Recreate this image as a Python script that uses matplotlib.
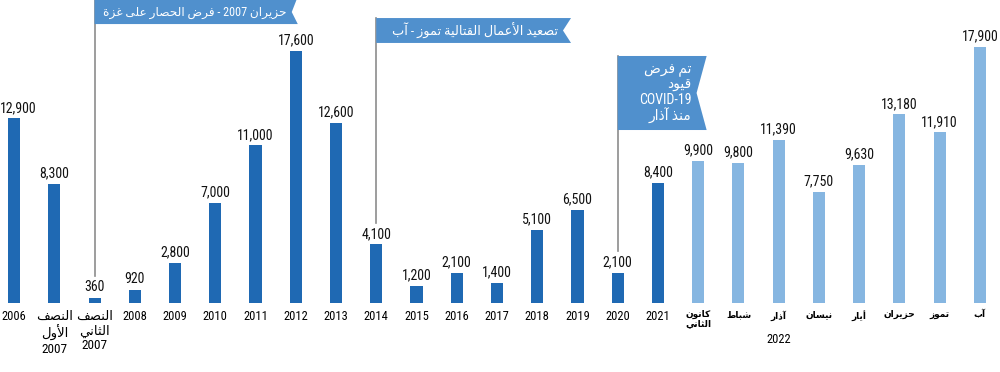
import matplotlib
matplotlib.use("Agg")
import matplotlib.pyplot as plt
from matplotlib.patches import Polygon

# --- minimal Arabic shaping (presentation forms) + right-to-left word order ---
DUAL = {'ئ': 0xFE89, 'ب': 0xFE8F, 'ت': 0xFE95, 'ث': 0xFE99, 'ج': 0xFE9D, 'ح': 0xFEA1,
        'خ': 0xFEA5, 'س': 0xFEB1, 'ش': 0xFEB5, 'ص': 0xFEB9, 'ض': 0xFEBD, 'ط': 0xFEC1,
        'ظ': 0xFEC5, 'ع': 0xFEC9, 'غ': 0xFECD, 'ف': 0xFED1, 'ق': 0xFED5, 'ك': 0xFED9,
        'ل': 0xFEDD, 'م': 0xFEE1, 'ن': 0xFEE5, 'ه': 0xFEE9, 'ي': 0xFEF1}
RIGHT = {'آ': 0xFE81, 'أ': 0xFE83, 'ؤ': 0xFE85, 'إ': 0xFE87, 'ا': 0xFE8D, 'ة': 0xFE93,
         'د': 0xFEA9, 'ذ': 0xFEAB, 'ر': 0xFEAD, 'ز': 0xFEAF, 'و': 0xFEED, 'ى': 0xFEEF}
LAM_ALEF = {'آ': 0xFEF5, 'أ': 0xFEF7, 'إ': 0xFEF9, 'ا': 0xFEFB}


def shape(word):
    chars = []
    i = 0
    while i < len(word):
        if word[i] == 'ل' and i + 1 < len(word) and word[i + 1] in LAM_ALEF:
            chars.append(('LA', word[i + 1]))
            i += 2
        else:
            chars.append((word[i], word[i]))
            i += 1
    out = []
    for k, (kind, c) in enumerate(chars):
        p = k > 0 and chars[k - 1][0] in DUAL
        nxt = chars[k + 1][0] if k + 1 < len(chars) else None
        if kind == 'LA':
            out.append(chr(LAM_ALEF[c] + (1 if p else 0)))
        elif kind in DUAL:
            n = nxt is not None and (nxt in DUAL or nxt in RIGHT or nxt == 'LA')
            out.append(chr(DUAL[kind] + (3 if p and n else 1 if p else 2 if n else 0)))
        elif kind in RIGHT:
            out.append(chr(RIGHT[kind] + (1 if p else 0)))
        else:
            out.append(kind)
    return ''.join(out)


def ar(text):
    lines = []
    for line in text.split('\n'):
        words = []
        for w in line.split(' '):
            if any('\u0600' <= ch <= '\u06ff' for ch in w):
                words.append(shape(w)[::-1])
            else:
                words.append(w)
        lines.append(' '.join(words[::-1]))
    return '\n'.join(lines)


# --- data ---
labels = ['2006', 'النصف\nالأول\n2007', 'النصف\nالثاني\n2007', '2008', '2009', '2010',
          '2011', '2012', '2013', '2014', '2015', '2016', '2017', '2018', '2019', '2020',
          '2021', 'كانون\nالثاني', 'شباط', 'آذار', 'نيسان', 'أيار', 'حزيران', 'تموز', 'آب']
values = [12900, 8300, 360, 920, 2800, 7000, 11000, 17600, 12600, 4100, 1200, 2100,
          1400, 5100, 6500, 2100, 8400, 9900, 9800, 11390, 7750, 9630, 13180, 11910, 17900]
n_years = 17  # first 17 bars are years / half-years, the rest are 2022 months

events = ['حزيران 2007 - فرض الحصار على غزة',
          'تصعيد الأعمال القتالية تموز - آب',
          'تم فرض\nقيود\nCOVID-19\nمنذ آذار']
event_bar = [2, 9, 15]

dark = '#1f69b3'
light = '#86b6e1'
banner = '#5090cd'
FONT = ['Liberation Sans Narrow', 'Roboto Condensed', 'DejaVu Sans']
plt.rcParams['font.family'] = FONT

fig = plt.figure(figsize=(10, 3.72), dpi=100)
ax = fig.add_axes([0, 69 / 372, 1, 303 / 372])

x = list(range(len(values)))
colors = [dark] * n_years + [light] * (len(values) - n_years)
ax.bar(x, values, width=0.3, color=colors)

for xi, v in zip(x, values):
    dx = 3 if xi == 0 else 0
    ax.annotate(f'{v:,}', (xi, v), xytext=(dx, 2.5), textcoords='offset points',
                ha='center', va='bottom', fontsize=10, color='#111111')

ax.set_xlim(-0.35, 24.5)
ax.set_ylim(0, 21160)
ax.set_xticks(x)
ax.set_xticklabels([ar(l) for l in labels], fontsize=9, linespacing=1.15)
for i, t in enumerate(ax.get_xticklabels()):
    if i >= n_years:
        t.set_fontsize(6.5)
        t.set_fontweight('bold')
        t.set_linespacing(0.95)
    elif i in (1, 2):
        t.set_fontsize(9.5)
ax.tick_params(axis='x', length=0, pad=5)
ax.set_yticks([])
for s in ax.spines.values():
    s.set_visible(False)

ax.annotate('2022', (19, 0), xycoords=('data', 'axes fraction'), xytext=(0, -26),
            textcoords='offset points', ha='center', va='center', fontsize=9)

# event banners: (left x, right x, bottom y, top y) in data units
boxes = [(2, 7.05, 19480, 21400), (9, 13.84, 18160, 19900), (15, 17.21, 12080, 17250)]
notch = [0.15, 0.2, 0.25]
for k, (b, (x0, x1, y0, y1)) in enumerate(zip(event_bar, boxes)):
    ax.plot([b, b], [values[b] + 1500, y1], color='#8c8c8c', lw=1.2, clip_on=False, zorder=1)
    ym = (y0 + y1) / 2 if k else (y0 + 21160) / 2
    poly = Polygon([(x0, y0), (x1, y0), (x1 - notch[k], ym), (x1, y1), (x0, y1)],
                   closed=True, facecolor=banner, edgecolor='none', clip_on=False, zorder=3)
    ax.add_patch(poly)
    ax.text(x1 - notch[k] - 0.12, ym, ar(events[k]), ha='right', va='center',
            color='white', fontsize=8.7 if k == 0 else 9.3 if k == 1 else 10,
            linespacing=1.12, zorder=4, multialignment='right')

fig.savefig('out.png', dpi=100)
